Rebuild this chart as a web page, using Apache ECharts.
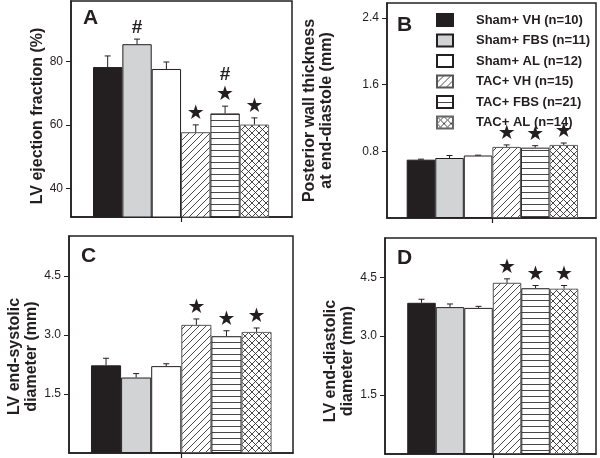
<!DOCTYPE html>
<html>
<head>
<meta charset="utf-8">
<script src="https://cdn.jsdelivr.net/npm/echarts@6/dist/echarts.min.js"></script>
<style>
  html, body { margin: 0; padding: 0; background: #fff; }
  #chart { width: 600px; height: 458px; }
</style>
</head>
<body>
<div id="chart"></div>
<script>
// groups (legend)
const groups = ['Sham+ VH (n=10)', 'Sham+ FBS (n=11)', 'Sham+ AL (n=12)', 'TAC+ VH (n=15)', 'TAC+ FBS (n=21)', 'TAC+ AL (n=14)'];
const barIndex = [0, 1, 2, 3, 4, 5];

// A: LV ejection fraction (%)
const efMean = [78.2, 85.4, 77.6, 57.7, 63.6, 60.1];
const efErr = [3.5, 1.6, 2.2, 2.3, 2.3, 2.1];
const efStar = [0, 0, 0, 1, 1, 1];
const efHash = [0, 1, 0, 0, 1, 0];
const efTicks = [40, 60, 80];

// B: posterior wall thickness (mm)
const pwtMean = [0.70, 0.72, 0.75, 0.853, 0.844, 0.877];
const pwtErr = [0.006, 0.03, 0.004, 0.024, 0.024, 0.023];
const pwtStar = [0, 0, 0, 1, 1, 1];
const pwtTicks = [0.8, 1.6, 2.4];

// C: LV end-systolic diameter (mm)
const esdMean = [2.23, 1.92, 2.21, 3.26, 2.97, 3.08];
const esdErr = [0.18, 0.10, 0.06, 0.15, 0.14, 0.10];
const esdStar = [0, 0, 0, 1, 1, 1];
const esdTicks = [1.5, 3.0, 4.5];

// D: LV end-diastolic diameter (mm)
const eddMean = [3.85, 3.74, 3.72, 4.36, 4.22, 4.21];
const eddErr = [0.09, 0.08, 0.04, 0.10, 0.07, 0.08];
const eddStar = [0, 0, 0, 1, 1, 1];
const eddTicks = [1.5, 3.0, 4.5];

const noMarks = [0, 0, 0, 0, 0, 0];
const ink = '#231f20';
const font = '"Liberation Sans", Arial, sans-serif';

/**
 * 生成填充图案（斜线 / 横线 / 网格）
 */
function pattern(kind) {
  const s = kind === 'horiz' ? 6 : 7;
  const c = document.createElement('canvas');
  c.width = s; c.height = s;
  const g = c.getContext('2d');
  g.fillStyle = '#fff';
  g.fillRect(0, 0, s, s);
  g.strokeStyle = '#333';
  g.lineWidth = 0.9;
  g.beginPath();
  if (kind === 'horiz') {
    g.moveTo(0, 0.5); g.lineTo(s, 0.5);
  }
  if (kind === 'diag' || kind === 'cross') {
    g.moveTo(-1, s + 1); g.lineTo(s + 1, -1);
    g.moveTo(-1, 1); g.lineTo(1, -1);
    g.moveTo(s - 1, s + 1); g.lineTo(s + 1, s - 1);
  }
  if (kind === 'cross') {
    g.moveTo(-1, -1); g.lineTo(s + 1, s + 1);
    g.moveTo(s - 1, -1); g.lineTo(s + 1, 1);
    g.moveTo(-1, s - 1); g.lineTo(1, s + 1);
  }
  g.stroke();
  return { image: c, repeat: 'repeat' };
}

const fills = [ink, '#d1d3d4', '#ffffff', pattern('diag'), pattern('horiz'), pattern('cross')];
const borders = [ink, ink, ink, '#555', ink, '#666'];

// 面板布局
const panels = [
  { letter: 'A', lx: 83, ly: 8, left: 71, top: 1, w: 221, h: 216, xMin: -1.25, xMax: 6.28, yMin: 31, yMax: 99,
    ticks: efTicks, dec: 0, name: 'LV ejection fraction (%)', gap: 25, shift: 14,
    mean: efMean, err: efErr, star: efStar, hash: efHash },
  { letter: 'B', lx: 397, ly: 15, left: 387, top: 3, w: 209, h: 215, xMin: -1.19, xMax: 6.13, yMin: 0, yMax: 2.58,
    ticks: pwtTicks, dec: 1, name: 'Posterior wall thickness\nat end-diastole (mm)', gap: 52, shift: 0,
    mean: pwtMean, err: pwtErr, star: pwtStar, hash: noMarks },
  { letter: 'C', lx: 81, ly: 246, left: 69, top: 236, w: 224, h: 217, xMin: -1.23, xMax: 6.21, yMin: 0, yMax: 5.52,
    ticks: esdTicks, dec: 1, name: 'LV end-systolic\ndiameter (mm)', gap: 28, shift: 24,
    mean: esdMean, err: esdErr, star: esdStar, hash: noMarks },
  { letter: 'D', lx: 397, ly: 248, left: 385, top: 238, w: 211, h: 216, xMin: -1.28, xMax: 6.12, yMin: 0, yMax: 5.5,
    ticks: eddTicks, dec: 1, name: 'LV end-diastolic\ndiameter (mm)', gap: 29, shift: 30,
    mean: eddMean, err: eddErr, star: eddStar, hash: noMarks }
];

const grid = [], xAxis = [], yAxis = [], series = [], graphic = [];
const line = { color: ink, width: 1.5 };

panels.forEach((p, k) => {
  grid.push({ left: p.left, top: p.top, width: p.w, height: p.h, show: true,
    borderColor: ink, borderWidth: 1.5, containLabel: false, outerBoundsMode: 'none' });
  xAxis.push({ gridIndex: k, type: 'value', min: p.xMin, max: p.xMax,
    axisLine: { show: true, onZero: false, lineStyle: line },
    axisTick: { show: true, customValues: [2.5], length: 5, lineStyle: { color: ink, width: 1.2 } },
    axisLabel: { show: false }, splitLine: { show: false } });
  yAxis.push({ gridIndex: k, type: 'value', min: p.yMin, max: p.yMax,
    name: p.name, nameLocation: 'middle', nameRotate: 90, nameGap: p.gap,
    nameTextStyle: { fontFamily: font, fontWeight: 'bold', fontSize: 16, lineHeight: 17, color: ink,
      padding: [0, p.shift, 0, 0] },
    axisLine: { show: true, onZero: false, lineStyle: line },
    axisTick: { show: true, inside: false, customValues: p.ticks, length: 5, lineStyle: { color: ink, width: 1 } },
    axisLabel: { customValues: p.ticks, margin: 8, fontFamily: font, fontSize: 12, color: ink,
      formatter: v => v.toFixed(p.dec) },
    splitLine: { show: false } });

  const bw = p.w / (p.xMax - p.xMin);
  groups.forEach((name, i) => {
    series.push({ type: 'bar', name, xAxisIndex: k, yAxisIndex: k,
      data: [[barIndex[i], p.mean[i]]], barWidth: bw, barGap: '-100%',
      itemStyle: { color: fills[i], borderColor: borders[i], borderWidth: 1 },
      emphasis: { disabled: true } });
  });

  // 误差线（只画上半部分）
  series.push({ type: 'custom', xAxisIndex: k, yAxisIndex: k, z: 5, silent: true,
    data: barIndex.map(i => [i, p.mean[i], p.mean[i] + p.err[i]]),
    encode: { x: 0, y: [1, 2] },
    renderItem: (params, api) => {
      const a = api.coord([api.value(0), api.value(1)]);
      const b = api.coord([api.value(0), api.value(2)]);
      const st = { stroke: ink, lineWidth: 1 };
      return { type: 'group', children: [
        { type: 'line', shape: { x1: a[0], y1: a[1], x2: b[0], y2: b[1] }, style: st },
        { type: 'line', shape: { x1: b[0] - 3, y1: b[1], x2: b[0] + 3, y2: b[1] }, style: st }
      ] };
    } });

  // 显著性标记 ★ / #
  series.push({ type: 'custom', xAxisIndex: k, yAxisIndex: k, z: 6, silent: true,
    data: barIndex.map(i => [i, p.mean[i] + p.err[i], p.star[i], p.hash[i]]),
    encode: { x: 0, y: 1 },
    renderItem: (params, api) => {
      const c = api.coord([api.value(0), api.value(1)]);
      const kids = [];
      let y = c[1] - 11;
      if (api.value(2)) {
        kids.push({ type: 'text', x: c[0], y: y, style: { text: '★', fill: ink, fontSize: 20,
          fontFamily: 'DejaVu Sans', align: 'center', verticalAlign: 'middle' } });
        y -= 20;
      }
      if (api.value(3)) {
        kids.push({ type: 'text', x: c[0], y: y, style: { text: '#', fill: ink, fontSize: 19, fontWeight: 'bold',
          fontFamily: font, align: 'center', verticalAlign: 'middle' } });
      }
      return { type: 'group', children: kids };
    } });

  graphic.push({ type: 'text', left: p.lx, top: p.ly,
    style: { text: p.letter, fill: ink, font: 'bold 21px ' + font } });
});

const chart = echarts.init(document.getElementById('chart'), null, { renderer: 'canvas' });
chart.setOption({
  backgroundColor: '#fff',
  animation: false,
  grid, xAxis, yAxis, series, graphic,
  legend: {
    data: groups.map(name => ({ name, icon: 'rect' })),
    orient: 'vertical', left: 431, top: 8,
    itemWidth: 16, itemHeight: 12, itemGap: 6.5,
    textStyle: { fontFamily: font, fontWeight: 'bold', fontSize: 13, lineHeight: 13, color: ink,
      padding: [0, 0, 0, 18] },
    selectedMode: false
  }
});
</script>
</body>
</html>
